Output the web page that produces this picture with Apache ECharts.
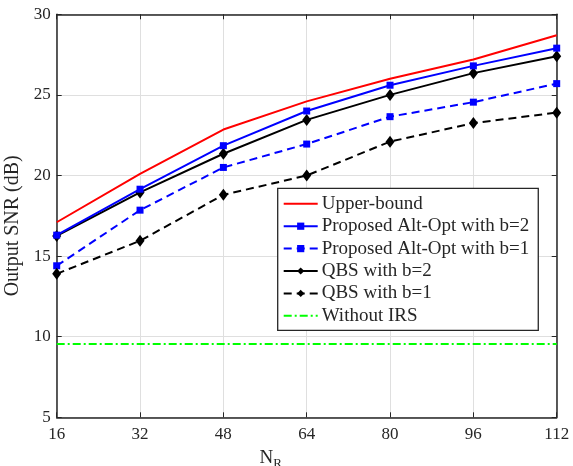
<!DOCTYPE html>
<html><head><meta charset="utf-8">
<script src="https://cdn.jsdelivr.net/npm/echarts@6/dist/echarts.min.js"></script>
<style>html,body{margin:0;padding:0;background:#fff}#c{width:573px;height:466px}</style>
</head><body><div id="c"></div>
<script>
const NR = [16, 32, 48, 64, 80, 96, 112];
const upperBound = [17.1, 20.1, 22.85, 24.6, 26.0, 27.2, 28.7];
const altOptB2 = [16.3, 19.15, 21.85, 24.0, 25.6, 26.8, 27.9];
const altOptB1 = [14.4, 17.85, 20.5, 21.95, 23.65, 24.55, 25.7];
const qbsB2 = [16.25, 18.95, 21.35, 23.45, 25.0, 26.35, 27.4];
const qbsB1 = [13.9, 15.95, 18.8, 20.0, 22.1, 23.25, 23.9];
const withoutIRS = [9.55, 9.55, 9.55, 9.55, 9.55, 9.55, 9.55];
const names = ['Upper-bound','Proposed Alt-Opt with b=2','Proposed Alt-Opt with b=1','QBS with b=2','QBS with b=1','Without IRS'];
const yTicks = {min: 5, max: 30, interval: 5};
const xTicks = {min: 16, max: 112, interval: 16};

const font = 'Liberation Serif';
const frame = '#262626';
const pair = arr => NR.map((x, i) => [x, arr[i]]);
const chart = echarts.init(document.getElementById('c'));
const axisBase = {
  axisLine: {show: true, onZero: false, lineStyle: {color: frame, width: 1.5}},
  axisTick: {show: true, inside: true, length: 5, lineStyle: {color: frame, width: 1}},
};
const hidden = {opacity: 0, color: 'rgba(0,0,0,0)', borderWidth: 0};
chart.setOption({
  animation: false,
  backgroundColor: '#fff',
  grid: {left: 56.7, right: 16.3, top: 14.3, bottom: 48.7, containLabel: false, outerBoundsMode: 'none'},
  xAxis: [
    Object.assign({type: 'value', min: xTicks.min, max: xTicks.max, interval: xTicks.interval,
      name: '{a|N}{b|R}', nameLocation: 'middle', nameGap: 21,
      nameTextStyle: {padding: [0, 72, 0, 0], rich: {
        a: {fontFamily: font, fontSize: 19, lineHeight: 19, color: '#262626', verticalAlign: 'top'},
        b: {fontFamily: font, fontSize: 13, lineHeight: 13, color: '#262626', padding: [9, 0, 0, 0], verticalAlign: 'top'}}},
      axisLabel: {fontFamily: font, fontSize: 17, color: '#262626', margin: 9},
      splitLine: {show: true, lineStyle: {color: '#dfdfdf', width: 1}}}, axisBase),
    Object.assign({type: 'value', position: 'top', min: xTicks.min, max: xTicks.max, interval: xTicks.interval,
      axisLabel: {show: false}, splitLine: {show: false}}, axisBase)
  ],
  yAxis: [
    Object.assign({type: 'value', min: yTicks.min, max: yTicks.max, interval: yTicks.interval,
      name: 'Output SNR (dB)', nameLocation: 'middle', nameGap: 27,
      nameTextStyle: {fontFamily: font, fontSize: 20, color: '#262626', padding: [0, 20, 0, 0]},
      axisLabel: {fontFamily: font, fontSize: 17, color: '#262626', margin: 6},
      splitLine: {show: true, lineStyle: {color: '#dfdfdf', width: 1}}}, axisBase),
    Object.assign({type: 'value', position: 'right', min: yTicks.min, max: yTicks.max, interval: yTicks.interval,
      axisLabel: {show: false}, splitLine: {show: false}}, axisBase)
  ],
  legend: {
    orient: 'vertical', left: 277.7, top: 188.3,
    data: [
      {name: names[0], itemStyle: hidden},
      {name: names[1]}, {name: names[2]}, {name: names[3]}, {name: names[4]},
      {name: names[5], itemStyle: hidden}
    ],
    itemWidth: 34, itemHeight: 9, itemGap: 3.4, padding: [6, 9, 5, 5],
    backgroundColor: '#fff', borderColor: frame, borderWidth: 1.3, borderRadius: 0,
    textStyle: {fontFamily: font, fontSize: 19, color: '#262626', padding: [0, 0, 0, -1]},
  },
  series: [
    {name: names[0], type: 'line', data: pair(upperBound), symbol: 'none', z: 5,
      lineStyle: {color: '#ff0000', width: 2}, itemStyle: {color: '#ff0000'}},
    {name: names[1], type: 'line', data: pair(altOptB2), symbol: 'rect', symbolSize: 7, z: 6,
      lineStyle: {color: '#0000ff', width: 2}, itemStyle: {color: '#0000ff'}},
    {name: names[2], type: 'line', data: pair(altOptB1), symbol: 'rect', symbolSize: 7, z: 4,
      lineStyle: {color: '#0000ff', width: 2, type: [8, 5]}, itemStyle: {color: '#0000ff'}},
    {name: names[3], type: 'line', data: pair(qbsB2), symbol: 'diamond', symbolSize: [9, 12], z: 5,
      lineStyle: {color: '#000000', width: 2}, itemStyle: {color: '#000000'}},
    {name: names[4], type: 'line', data: pair(qbsB1), symbol: 'diamond', symbolSize: [9, 12], z: 4,
      lineStyle: {color: '#000000', width: 2, type: [8, 5]}, itemStyle: {color: '#000000'}},
    {name: names[5], type: 'line', data: pair(withoutIRS), symbol: 'none', z: 3,
      lineStyle: {color: '#00ff00', width: 2, type: [8, 3, 2, 3]}, itemStyle: {color: '#00ff00'}},
  ]
});
</script></body></html>
